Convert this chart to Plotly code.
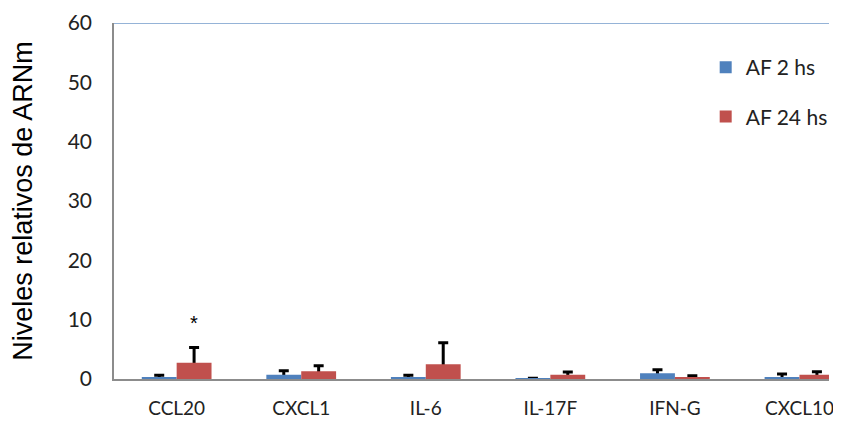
import plotly.graph_objects as go

categories = ["CCL20", "CXCL1", "IL-6", "IL-17F", "IFN-G", "CXCL10"]
af2_values = [0.35, 0.73, 0.30, 0.12, 0.96, 0.29]
af2_errors = [0.30, 0.67, 0.32, 0.0, 0.61, 0.55]
af24_values = [2.75, 1.30, 2.50, 0.73, 0.29, 0.73]
af24_errors = [2.55, 0.95, 3.60, 0.45, 0.27, 0.50]
series_names = ["AF 2 hs", "AF 24 hs"]
y_ticks = [0, 10, 20, 30, 40, 50, 60]
star_value = 9.5

BLUE = "#4F81BD"
RED = "#C0504D"
TICK_FONT = dict(family="Lato", size=21, color="#222222")
XTICK_FONT = dict(family="Lato", size=19, color="#222222")

fig = go.Figure()

series = [
    (series_names[0], af2_values, af2_errors, BLUE, -0.28),
    (series_names[1], af24_values, af24_errors, RED, 0.0),
]

# error bars (drawn first, so bars cover the lower part)
for name, vals, errs, color, off in series:
    fig.add_trace(go.Bar(
        x=categories, y=vals, width=0.28, offset=off,
        marker=dict(color="rgba(0,0,0,0)", line=dict(width=0)),
        error_y=dict(type="data", symmetric=False,
                     array=[e if e > 0 else None for e in errs],
                     arrayminus=[v + 5 for v in vals],
                     color="black", thickness=3, width=5),
        showlegend=False, hoverinfo="skip",
    ))

for i, (name, vals, errs, color, off) in enumerate(series):
    fig.add_trace(go.Bar(
        x=categories, y=vals, width=0.28, offset=off, name=name,
        marker=dict(color=color, line=dict(width=0)),
        legendgroup=f"g{i}",
    ))

fig.add_annotation(x=0.14, y=star_value, xref="x", yref="y", text="*",
                   showarrow=False, font=dict(family="Liberation Sans", size=20, color="black"))

fig.add_shape(type="line", xref="paper", yref="y", x0=0, x1=1, y0=60, y1=60,
              line=dict(color="#95B3D7", width=2))

# the page body has an 8px margin; keep the figure inside the window
fig.update_layout(
    width=825, height=412,
    margin=dict(l=106, r=0, t=15, b=41),
    paper_bgcolor="white", plot_bgcolor="white",
    barmode="overlay",
    showlegend=True,
    legend=dict(x=(709 - 114) / 719, xanchor="left", y=1 - (47 - 23) / 356, yanchor="top",
                font=dict(family="Lato", size=21, color="#222222"),
                tracegroupgap=19, bgcolor="rgba(0,0,0,0)"),
    xaxis=dict(type="category", range=[-0.503, 5.237], showgrid=False,
               showline=True, linecolor="#8C8C8C", linewidth=1.5,
               ticks="", tickfont=XTICK_FONT, ticklabelstandoff=11, automargin=False),
    yaxis=dict(range=[0, 60], tickvals=y_ticks, showgrid=False, zeroline=False,
               showline=True, linecolor="#8C8C8C", linewidth=1.5,
               ticks="", tickfont=TICK_FONT, ticklabelstandoff=16,
               title=dict(text="Niveles relativos de ARNm",
                          font=dict(family="Liberation Sans", size=27, color="black"),
                          standoff=28),
               automargin=False),
)

fig.write_html("out.html")
